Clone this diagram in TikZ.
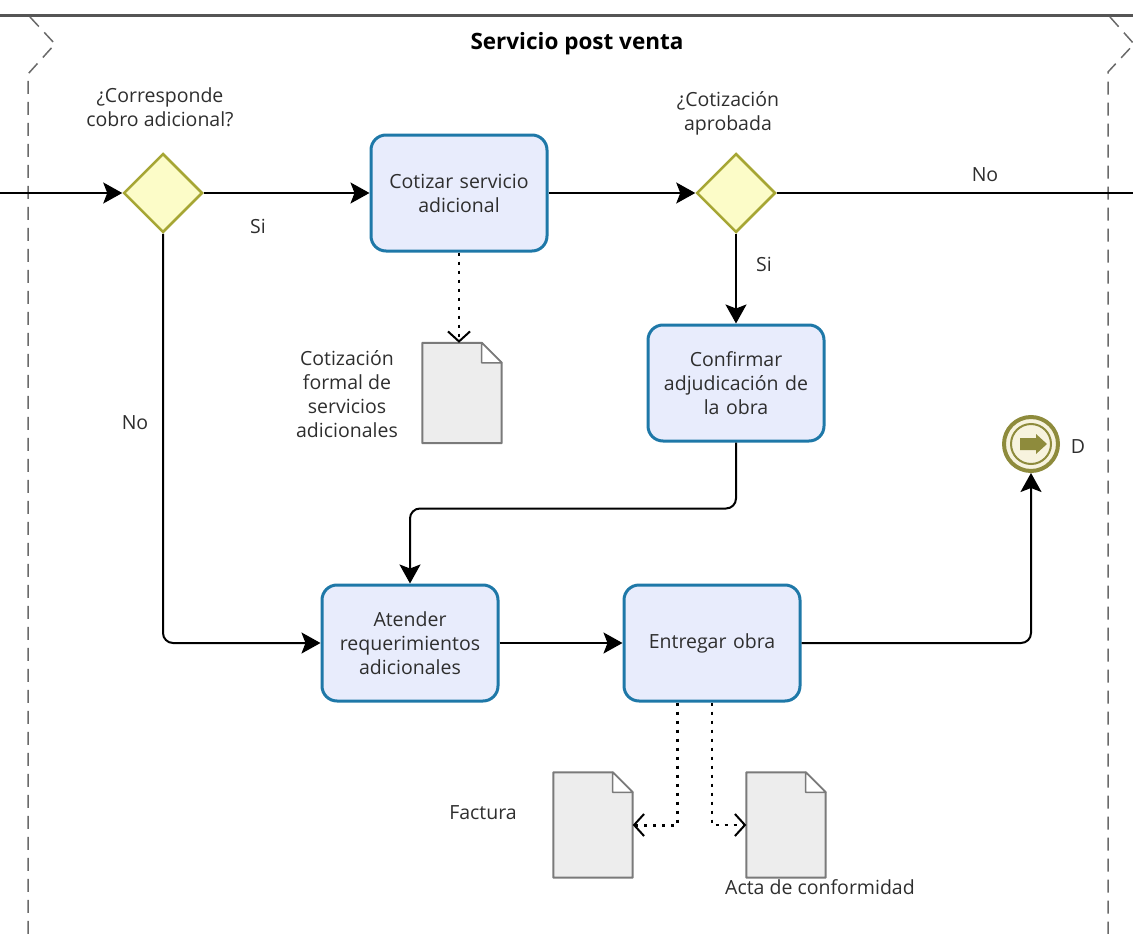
\documentclass[tikz,border=0pt]{standalone}
\usepackage{fontspec}
\setmainfont{Open Sans}
\usetikzlibrary{arrows.meta,shapes.geometric,calc}
\definecolor{taskfill}{HTML}{E8ECFC}
\definecolor{taskline}{HTML}{1E78A8}
\definecolor{gwfill}{HTML}{FCFCC8}
\definecolor{gwline}{HTML}{A6A634}
\definecolor{docfill}{HTML}{EDEDED}
\definecolor{docline}{HTML}{7A7A7A}
\definecolor{olive}{HTML}{8E8B3C}
\definecolor{evfill}{HTML}{F7F3DE}
\definecolor{ink}{HTML}{2E2E2E}
\definecolor{lane}{HTML}{6A6A6A}

% data object outline with folded corner, drawn around a named node
\newcommand\docpage[1]{%
  \fill[docfill] (#1.north west) -- ($(#1.north east)+(-20pt,0)$) -- ($(#1.north east)+(0,-20pt)$)
    -- (#1.south east) -- (#1.south west) -- cycle;
  \draw[docline, line width=2pt, line join=round] (#1.north west) -- ($(#1.north east)+(-20pt,0)$)
    -- ($(#1.north east)+(0,-20pt)$) -- (#1.south east) -- (#1.south west) -- cycle;
  \draw[docline, line width=1.5pt, line join=round, fill=white] ($(#1.north east)+(-20pt,0)$)
    -- ($(#1.north east)+(-20pt,-20pt)$) -- ($(#1.north east)+(0,-20pt)$) -- cycle;
}

\begin{document}
\begin{tikzpicture}[x=1pt,y=-1pt,
  font=\fontsize{19.5}{24}\selectfont, text=ink,
  task/.style={draw=taskline, fill=taskfill, line width=3pt, rounded corners=15pt,
    minimum width=176pt, minimum height=116pt, align=center, text width=170pt, inner sep=0pt},
  gateway/.style={diamond, draw=gwline, fill=gwfill, line width=2.5pt,
    minimum width=79pt, minimum height=79pt, inner sep=0pt},
  docbox/.style={minimum width=79pt, minimum height=100pt, inner sep=0pt},
  flow/.style={line width=2pt, -{Stealth[length=19pt,width=21pt,inset=4pt]}},
  assoc/.style={line width=3pt, dash pattern=on 3pt off 6pt,
    -{Straight Barb[length=10pt,width=22pt,line width=2pt]}},
  lanedash/.style={draw=lane, line width=1.5pt, dash pattern=on 13pt off 8pt},
  lbl/.style={align=center, inner sep=0pt},
]
\useasboundingbox (0,0) rectangle (1133,934);

% pool header and lane boundaries
\draw[draw=lane!80!black, line width=3pt] (0,16) -- (1133,16);
\draw[lanedash] (30,17) -- (55,44) -- (28,74) -- (28,934);
\draw[lanedash] (1110,17) -- (1134,44) -- (1108,72) -- (1108,934);
\node[font=\bfseries\fontsize{22.5}{26}\selectfont, text=black] (title) at (577,44) {Servicio post venta};

% flow objects
\node[gateway] (g1) at (163,193) {};
\node[task] (t1) at (459,193) {Cotizar servicio\\adicional};
\node[gateway] (g2) at (736,193) {};
\node[task] (t3) at (736,383) {Confirmar\\adjudicación de\\la obra};
\node[task] (t4) at (410,643) {Atender\\requerimientos\\adicionales};
\node[task] (t5) at (712,643) {Entregar obra};
\node[circle, draw=olive, fill=evfill, line width=4pt, minimum size=54pt, inner sep=0pt] (end) at (1031,444) {};
\draw[olive, line width=2pt] (end.center) circle[radius=20pt];
\fill[olive] ($(end.center)+(-11pt,6pt)$) -- ($(end.center)+(5pt,6pt)$) -- ($(end.center)+(5pt,10pt)$)
  -- ($(end.center)+(16pt,0)$) -- ($(end.center)+(5pt,-10pt)$) -- ($(end.center)+(5pt,-6pt)$)
  -- ($(end.center)+(-11pt,-6pt)$) -- cycle;

% data objects
\node[docbox] (d1) at (462,393) {};
\node[docbox, minimum height=105pt] (d2) at (593,825) {};
\node[docbox, minimum height=105pt] (d3) at (786,825) {};
\docpage{d1}
\docpage{d2}
\docpage{d3}

% sequence flows
\coordinate (entry) at (0,193);
\coordinate (exit) at (1133,193);
\draw[flow] (entry) -- (g1.west);
\draw[flow] (g1.east) -- (t1.west);
\draw[flow] (t1.east) -- (g2.west);
\draw[line width=2pt] (g2.east) -- (exit);
\draw[flow] (g2.south) -- (t3.north);
\draw[flow, rounded corners=10pt] (g1.south) |- (t4.west);
\draw[flow, rounded corners=10pt] (t3.south) -- ++(0,66) -| (t4.north);
\draw[flow] (t4.east) -- (t5.west);
\draw[flow, rounded corners=10pt] (t5.east) -| (end.south);

% associations
\draw[assoc, line width=2pt] (t1.south) -- (t1.south |- d1.north);
\draw[assoc] ($(t5.south)+(-35pt,0)$) |- (d2.east);
\draw[assoc, line width=1.5pt] (t5.south) |- (d3.west);

% labels
\node[lbl] (lg1) at (160,107) {¿Corresponde\\cobro adicional?};
\node[lbl] (lg2) at (728,113) {¿Cotización\\aprobada};
\node[lbl] (si1) at (258,226) {Si};
\node[lbl] (si2) at (764,264) {Si};
\node[lbl] (no1) at (985,175) {No};
\node[lbl] (no2) at (135,423) {No};
\node[lbl] (ld1) at (347,394) {Cotización\\formal de\\servicios\\adicionales};
\node[lbl] (ld2) at (483,813) {Factura};
\node[lbl] (ld3) at (820,887) {Acta de conformidad};
\node[lbl] (lend) at (1078,447) {D};
\end{tikzpicture}
\end{document}
